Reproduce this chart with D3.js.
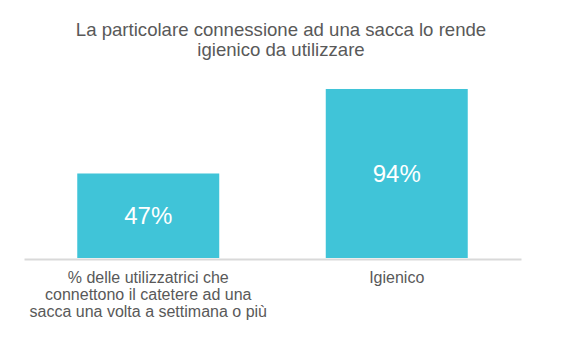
<!DOCTYPE html>
<html>
<head>
<meta charset="utf-8">
<script src="https://cdn.jsdelivr.net/npm/d3@7"></script>
<style>
  html, body { margin: 0; padding: 0; background: #ffffff; }
  svg { display: block; }
  text { font-family: "Liberation Sans", Arial, sans-serif; }
</style>
</head>
<body>
<svg id="chart" width="561" height="350"></svg>
<script>
// Chart content
const titleLines = ["La particolare connessione ad una sacca lo rende", "igienico da utilizzare"];
const categories = ["utilizzo", "igienico"];
const categoryLabels = [
  ["% delle utilizzatrici che", "connettono il catetere ad una", "sacca una volta a settimana o più"],
  ["Igienico"]
];
const values = [47, 94];
const valueLabels = ["47%", "94%"];

const width = 561, height = 350;
const margin = { left: 24, right: 40, top: 78, bottom: 92 };
const baseY = height - margin.bottom;

const svg = d3.select("#chart");

const x = d3.scaleBand()
  .domain(categories)
  .range([margin.left, width - margin.right])
  .paddingInner(0.4286)
  .paddingOuter(0.2143);

const y = d3.scaleLinear()
  .domain([0, 100])
  .range([baseY, 78.2]);

// Title
const title = svg.append("text")
  .attr("x", 281)
  .attr("y", 36)
  .attr("text-anchor", "middle")
  .attr("fill", "#595959")
  .style("font-size", "18.6px");
title.selectAll("tspan")
  .data(titleLines)
  .join("tspan")
  .attr("x", 281)
  .attr("dy", (d, i) => i === 0 ? 0 : 20)
  .text(d => d);

// Bars
svg.append("g")
  .selectAll("rect")
  .data(values)
  .join("rect")
  .attr("x", (d, i) => x(categories[i]))
  .attr("y", d => y(d))
  .attr("width", x.bandwidth())
  .attr("height", d => baseY - y(d))
  .attr("fill", "#40c4d8");

// Value labels inside bars
svg.append("g")
  .selectAll("text")
  .data(values)
  .join("text")
  .attr("x", (d, i) => x(categories[i]) + x.bandwidth() / 2)
  .attr("y", d => (y(d) + baseY) / 2)
  .attr("dy", "0.35em")
  .attr("text-anchor", "middle")
  .attr("fill", "#ffffff")
  .style("font-size", "24px")
  .text((d, i) => valueLabels[i]);

// Category axis
const axis = d3.axisBottom(x).tickSize(0).tickFormat("");
const axisG = svg.append("g")
  .attr("transform", `translate(0,${baseY + 1})`)
  .call(axis);
axisG.select(".domain")
  .attr("stroke", "#d9d9d9")
  .attr("stroke-width", 2);

// Category labels
const labels = svg.append("g")
  .selectAll("text")
  .data(categories)
  .join("text")
  .attr("x", d => x(d) + x.bandwidth() / 2)
  .attr("y", 282.5)
  .attr("text-anchor", "middle")
  .attr("fill", "#595959")
  .style("font-size", "16px");
labels.each(function (d, i) {
  d3.select(this).selectAll("tspan")
    .data(categoryLabels[i])
    .join("tspan")
    .attr("x", x(d) + x.bandwidth() / 2)
    .attr("dy", (t, j) => j === 0 ? 0 : 17)
    .text(t => t);
});
</script>
</body>
</html>
